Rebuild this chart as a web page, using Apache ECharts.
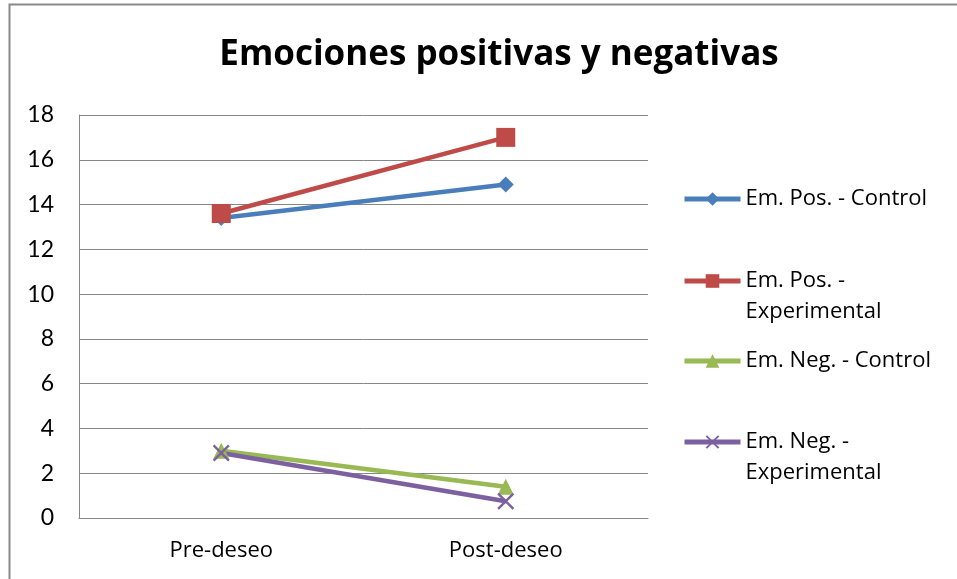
<!DOCTYPE html>
<html>
<head>
<meta charset="utf-8">
<script src="https://cdn.jsdelivr.net/npm/echarts@6/dist/echarts.min.js"></script>
<style>
  html, body { margin: 0; padding: 0; background: #fff; }
  #chart { width: 957px; height: 579px; }
</style>
</head>
<body>
<div id="chart"></div>
<script>
const categories = ['Pre-deseo', 'Post-deseo'];
const seriesNames = [
  'Em. Pos. - Control',
  'Em. Pos. - Experimental',
  'Em. Neg. - Control',
  'Em. Neg. - Experimental'
];
const posControl = [13.4, 14.9];
const posExperimental = [13.6, 17.0];
const negControl = [3.0, 1.4];
const negExperimental = [2.9, 0.75];
const yTicks = [0, 18, 2]; // min, max, interval

const FONT = '"Open Sans", Lato, sans-serif';
const NUM_FONT = 'Lato, "Open Sans", sans-serif';
const xMark = 'path://M2,0 L10,8 L18,0 L20,2 L12,10 L20,18 L18,20 L10,12 L2,20 L0,18 L8,10 L0,2 Z';

const colors = ['#4A7EBB', '#BE4B48', '#98B954', '#7D60A0'];
const symbols = ['diamond', 'rect', 'triangle', xMark];
const symbolSizes = [16, 19, 16, 17];
const values = [posControl, posExperimental, negControl, negExperimental];

// legend label layouts (extra blank line keeps the marker on the first line)
const legendLabels = [
  'Em. Pos. - Control',
  '\nEm. Pos. -\nExperimental',
  'Em. Neg. - Control',
  '\nEm. Neg. -\nExperimental'
];
const legendCenters = [197, 279, 359, 440];
const LH = 31;

const chart = echarts.init(document.getElementById('chart'));

chart.setOption({
  backgroundColor: '#fff',
  animation: false,
  title: {
    text: 'Emociones positivas y negativas',
    left: 494,
    top: 33,
    textAlign: 'center',
    textStyle: { fontFamily: FONT, fontSize: 35, fontWeight: 'bold', color: '#000' }
  },
  graphic: [{
    type: 'rect',
    shape: { x: 9.5, y: 4.5, width: 1000, height: 1000 },
    style: { fill: 'none', stroke: '#8a8a8a', lineWidth: 2 },
    silent: true
  }],
  legend: seriesNames.map((name, i) => ({
    data: [name],
    left: 677,
    top: legendCenters[i] - (legendLabels[i].split('\n').length * LH) / 2 - 3,
    itemWidth: 56,
    itemHeight: 17,
    itemGap: 0,
    lineStyle: { width: 5 },
    formatter: () => legendLabels[i],
    textStyle: { fontFamily: FONT, fontSize: 22, color: '#000', lineHeight: LH }
  })),
  grid: { left: 79, right: 309, top: 115, bottom: 61 },
  xAxis: {
    type: 'category',
    data: categories,
    boundaryGap: true,
    axisTick: { show: false },
    axisLine: { lineStyle: { color: '#868686', width: 1 } },
    axisLabel: { fontFamily: FONT, fontSize: 22, color: '#000', margin: 22 }
  },
  yAxis: {
    type: 'value',
    min: yTicks[0],
    max: yTicks[1],
    interval: yTicks[2],
    axisLine: { show: true, lineStyle: { color: '#868686', width: 1 } },
    axisTick: { show: false },
    splitLine: { lineStyle: { color: '#868686', width: 1 } },
    axisLabel: { fontFamily: NUM_FONT, fontSize: 23, color: '#000', margin: 25 }
  },
  series: seriesNames.map((name, i) => ({
    name: name,
    type: 'line',
    data: values[i],
    symbol: symbols[i],
    symbolSize: symbolSizes[i],
    showAllSymbol: true,
    color: colors[i],
    lineStyle: { color: colors[i], width: 4.5 },
    itemStyle: { color: colors[i] }
  }))
});
</script>
</body>
</html>
